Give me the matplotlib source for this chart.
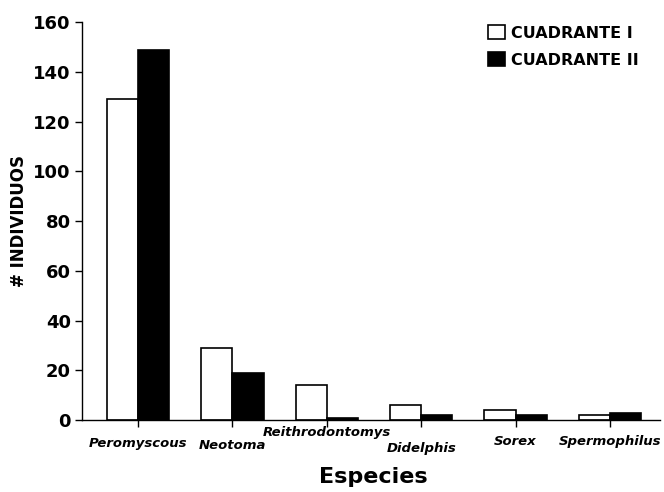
import matplotlib
matplotlib.use("Agg")
import matplotlib.pyplot as plt
import matplotlib.transforms as mtransforms
from matplotlib.patches import Patch
import numpy as np

species = ["Peromyscous", "Neotoma", "Reithrodontomys", "Didelphis", "Sorex", "Spermophilus"]
cuadrante_1 = [129, 29, 14, 6, 4, 2]
cuadrante_2 = [149, 19, 1, 2, 2, 3]
yticks = [0, 20, 40, 60, 80, 100, 120, 140, 160]
series_names = ["CUADRANTE I", "CUADRANTE II"]

# per-label vertical offsets (points below the axis) mimicking the staggered labels
label_offsets = [12.2, 13.2, 4.3, 15.5, 11, 11]

fig = plt.figure(figsize=(6.64, 4.92), dpi=100)
ax = fig.add_axes([0.1235, 0.146, 0.8705, 0.809])

x = np.arange(len(species))
w = 0.33
ax.bar(x - w / 2, cuadrante_1, width=w, color="white", edgecolor="black", linewidth=1.2, label=series_names[0])
ax.bar(x + w / 2, cuadrante_2, width=w, color="black", edgecolor="black", linewidth=1.2, label=series_names[1])

ax.set_xlim(-0.593, 5.53)
ax.set_ylim(0, 160)
ax.set_yticks(yticks)
ax.set_yticklabels([str(t) for t in yticks], fontsize=13, fontweight="bold", family="DejaVu Sans")
ax.set_xticks(x)
ax.set_xticklabels([])
ax.tick_params(axis="y", direction="out", length=5, width=1, pad=3)
ax.tick_params(axis="x", direction="out", length=5, width=1)

for s in ["top", "right"]:
    ax.spines[s].set_visible(False)
for s in ["left", "bottom"]:
    ax.spines[s].set_linewidth(1)

for xi, name, off in zip(x, species, label_offsets):
    tr = ax.get_xaxis_transform() + mtransforms.ScaledTranslation(0, -off / 72, fig.dpi_scale_trans)
    ax.text(xi, 0, name, transform=tr, ha="center", va="top", fontsize=9.5,
            fontweight="bold", fontstyle="italic", family="DejaVu Sans")

ax.set_ylabel("# INDIVIDUOS", fontsize=12, fontweight="bold", labelpad=4)
fig.text(0.562, 0.01, "Especies", ha="center", va="bottom", fontsize=16, fontweight="bold")

handles = [Patch(facecolor="white", edgecolor="black", linewidth=1.2),
           Patch(facecolor="black", edgecolor="black", linewidth=1.2)]
leg = fig.legend(handles, series_names, loc="upper left", bbox_to_anchor=(488 / 664, 1 - 25 / 492),
                 frameon=False, prop={"weight": "bold", "size": 11.5}, borderpad=0, borderaxespad=0,
                 handlelength=1.05, handleheight=1.0, handletextpad=0.4, labelspacing=0.72)

fig.savefig("out.png", dpi=100, facecolor="white")
